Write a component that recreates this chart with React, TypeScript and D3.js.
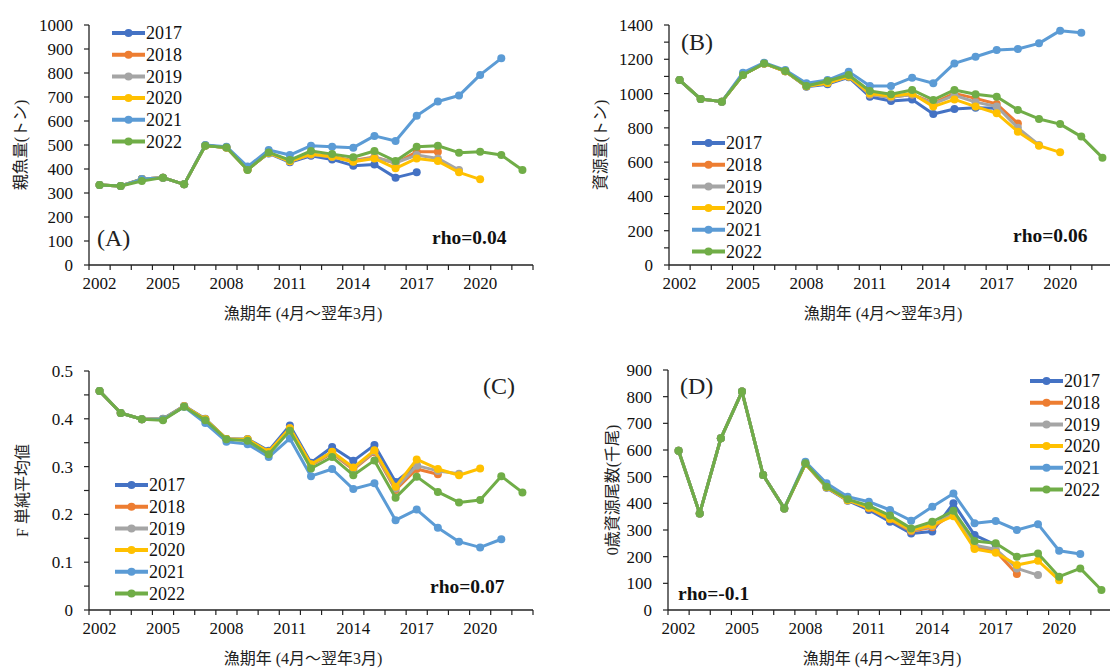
import React, { useEffect, useRef } from 'react';
import * as d3 from 'd3';

const years = [2002, 2003, 2004, 2005, 2006, 2007, 2008, 2009, 2010, 2011, 2012, 2013, 2014, 2015, 2016, 2017, 2018, 2019, 2020, 2021, 2022];
const tickYears = [2002, 2005, 2008, 2011, 2014, 2017, 2020];
const seriesNames = ['2017', '2018', '2019', '2020', '2021', '2022'];
const seriesColors = ['#4472C4', '#ED7D31', '#A5A5A5', '#FFC000', '#5B9BD5', '#70AD47'];

// (A) 親魚量
const ssb2017 = [333, 329, 358, 364, 336, 498, 490, 400, 465, 428, 455, 440, 414, 419, 364, 386];
const ssb2018 = [333, 329, 358, 364, 336, 498, 490, 398, 467, 432, 460, 452, 435, 450, 424, 472, 472];
const ssb2019 = [333, 329, 358, 364, 336, 498, 490, 398, 467, 432, 460, 450, 432, 448, 426, 458, 444, 396];
const ssb2020 = [333, 329, 358, 364, 336, 498, 490, 398, 467, 432, 462, 451, 430, 444, 403, 444, 433, 386, 357];
const ssb2021 = [333, 329, 358, 364, 336, 500, 493, 410, 479, 458, 497, 493, 489, 538, 517, 622, 681, 706, 792, 861];
const ssb2022 = [333, 329, 350, 364, 336, 497, 490, 396, 469, 437, 475, 462, 449, 475, 433, 493, 497, 468, 472, 458, 396];

// (B) 資源量
const bio2017 = [1079, 968, 953, 1110, 1176, 1130, 1040, 1055, 1095, 982, 957, 966, 881, 910, 918, 915];
const bio2018 = [1079, 968, 953, 1110, 1176, 1130, 1042, 1062, 1100, 995, 978, 995, 945, 1001, 972, 939, 826];
const bio2019 = [1079, 968, 953, 1110, 1176, 1130, 1042, 1062, 1100, 995, 978, 995, 940, 990, 950, 925, 800, 700];
const bio2020 = [1079, 968, 953, 1110, 1176, 1130, 1042, 1062, 1100, 1000, 985, 1000, 924, 966, 924, 885, 778, 696, 657];
const bio2021 = [1079, 968, 953, 1122, 1180, 1137, 1060, 1079, 1128, 1044, 1044, 1093, 1060, 1176, 1215, 1254, 1260, 1293, 1367, 1355];
const bio2022 = [1079, 968, 953, 1108, 1176, 1132, 1044, 1073, 1108, 1015, 996, 1021, 963, 1021, 996, 982, 904, 852, 822, 749, 626];

// (C) F 単純平均値
const f2017 = [0.458, 0.412, 0.399, 0.400, 0.427, 0.400, 0.358, 0.358, 0.333, 0.386, 0.308, 0.341, 0.312, 0.345, 0.268, 0.303];
const f2018 = [0.458, 0.412, 0.399, 0.399, 0.426, 0.399, 0.358, 0.356, 0.330, 0.380, 0.303, 0.328, 0.294, 0.330, 0.251, 0.295, 0.284];
const f2019 = [0.458, 0.412, 0.399, 0.399, 0.426, 0.399, 0.358, 0.356, 0.330, 0.380, 0.304, 0.330, 0.296, 0.332, 0.254, 0.302, 0.291, 0.285];
const f2020 = [0.458, 0.412, 0.399, 0.399, 0.426, 0.399, 0.358, 0.357, 0.331, 0.380, 0.305, 0.331, 0.298, 0.334, 0.258, 0.315, 0.295, 0.282, 0.296];
const f2021 = [0.458, 0.412, 0.399, 0.399, 0.425, 0.391, 0.352, 0.347, 0.320, 0.359, 0.280, 0.295, 0.253, 0.265, 0.188, 0.210, 0.172, 0.143, 0.131, 0.148];
const f2022 = [0.458, 0.412, 0.399, 0.397, 0.425, 0.397, 0.357, 0.354, 0.326, 0.375, 0.296, 0.320, 0.282, 0.313, 0.235, 0.279, 0.247, 0.225, 0.230, 0.280, 0.246];

// (D) 0歳資源尾数
const rec2017 = [597, 362, 644, 819, 506, 381, 548, 458, 410, 375, 331, 287, 294, 400, 281, 244];
const rec2018 = [597, 362, 644, 819, 506, 381, 548, 460, 412, 382, 340, 295, 310, 360, 235, 220, 135];
const rec2019 = [597, 362, 644, 819, 506, 381, 548, 460, 412, 384, 342, 298, 315, 365, 243, 228, 156, 131];
const rec2020 = [597, 362, 644, 819, 506, 381, 548, 460, 412, 384, 342, 300, 319, 352, 229, 215, 169, 185, 112];
const rec2021 = [597, 362, 644, 819, 506, 381, 556, 475, 425, 406, 375, 335, 387, 437, 325, 334, 300, 322, 222, 210];
const rec2022 = [597, 362, 644, 819, 506, 381, 550, 462, 415, 391, 354, 306, 331, 372, 259, 250, 200, 212, 125, 156, 75];

const serif = '"Liberation Serif", "Times New Roman", serif';
const jp = '"Liberation Serif", "Noto Sans CJK JP", serif';

const panels = [
  {
    left: 89, top: 25, bottom: 265, max: 1000, step: 100, labelStep: 100, fmt: (d: number) => `${d}`,
    series: [ssb2017, ssb2018, ssb2019, ssb2020, ssb2021, ssb2022],
    ytitle: '親魚量(トン)', ytx: 20, tag: '(A)', tagX: 97, tagY: 246,
    rho: 'rho=0.04', rhoX: 432, rhoY: 244, legX: 112, legY: 33,
  },
  {
    left: 669, top: 25, bottom: 265, max: 1400, step: 100, labelStep: 200, fmt: (d: number) => `${d}`,
    series: [bio2017, bio2018, bio2019, bio2020, bio2021, bio2022],
    ytitle: '資源量(トン)', ytx: 600, tag: '(B)', tagX: 681, tagY: 50,
    rho: 'rho=0.06', rhoX: 1013, rhoY: 242, legX: 692, legY: 143,
  },
  {
    left: 89, top: 371, bottom: 610, max: 0.5, step: 0.05, labelStep: 0.1, fmt: (d: number) => (d === 0 ? '0' : d3.format('.1f')(d)),
    series: [f2017, f2018, f2019, f2020, f2021, f2022],
    ytitle: 'F 単純平均値', ytx: 22, tag: '(C)', tagX: 483, tagY: 394,
    rho: 'rho=0.07', rhoX: 430, rhoY: 593, legX: 115, legY: 485,
  },
  {
    left: 668, top: 370, bottom: 610, max: 900, step: 100, labelStep: 100, fmt: (d: number) => `${d}`,
    series: [rec2017, rec2018, rec2019, rec2020, rec2021, rec2022],
    ytitle: '0歳資源尾数(千尾)', ytx: 612, tag: '(D)', tagX: 680, tagY: 394,
    rho: 'rho=-0.1', rhoX: 678, rhoY: 600, legX: 1030, legY: 381,
  },
];

const App = () => {
  const svgRef: any = useRef();

  useEffect(() => {
    const svg = d3.select(svgRef.current);
    svg.selectAll('*').remove();

    panels.forEach((p) => {
      const g = svg.append('g');
      const x = d3.scaleBand<number>().domain(years).range([p.left, p.left + 444]);
      const y = d3.scaleLinear().domain([0, p.max]).range([p.bottom, p.top]);
      const cx = (i: number) => (x(years[i]) as number) + x.bandwidth() / 2;

      // y axis with ticks
      const yTicks = d3.range(0, p.max + p.step / 2, p.step);
      g.append('line').attr('x1', p.left).attr('x2', p.left).attr('y1', p.top).attr('y2', p.bottom)
        .attr('stroke', '#222').attr('stroke-width', 1.3);
      g.selectAll('.yt').data(yTicks).enter().append('line')
        .attr('x1', p.left - 5).attr('x2', p.left).attr('y1', (d) => y(d)).attr('y2', (d) => y(d))
        .attr('stroke', '#222').attr('stroke-width', 1.2);
      g.selectAll('.yl').data(yTicks.filter((d) => Math.abs(d / p.labelStep - Math.round(d / p.labelStep)) < 1e-6))
        .enter().append('text')
        .attr('x', p.left - 16).attr('y', (d) => y(d)).attr('dy', '0.35em')
        .attr('text-anchor', 'end').attr('font-family', serif).attr('font-size', 17).attr('fill', '#111')
        .text((d) => p.fmt(d));

      // x axis
      g.append('line').attr('x1', p.left).attr('x2', p.left + 444).attr('y1', p.bottom).attr('y2', p.bottom)
        .attr('stroke', '#222').attr('stroke-width', 1.3);
      const bounds = years.map((yr) => x(yr) as number).concat([p.left + 444]);
      g.selectAll('.xt').data(bounds).enter().append('line')
        .attr('x1', (d) => d).attr('x2', (d) => d).attr('y1', p.bottom).attr('y2', p.bottom + 5)
        .attr('stroke', '#222').attr('stroke-width', 1.2);
      g.selectAll('.xl').data(tickYears).enter().append('text')
        .attr('x', (d) => (x(d) as number) + x.bandwidth() / 2).attr('y', p.bottom + 24)
        .attr('text-anchor', 'middle').attr('font-family', serif).attr('font-size', 17).attr('fill', '#111')
        .text((d) => d);
      g.append('text')
        .attr('x', p.left + 214).attr('y', p.bottom + 54)
        .attr('text-anchor', 'middle').attr('font-family', jp).attr('font-size', 16).attr('fill', '#222')
        .text('漁期年 (4月～翌年3月)');
      g.append('text')
        .attr('transform', `translate(${p.ytx},${(p.top + p.bottom) / 2}) rotate(-90)`)
        .attr('text-anchor', 'middle').attr('dy', '0.35em').attr('font-family', jp).attr('font-size', 16).attr('fill', '#222')
        .text(p.ytitle);

      // series
      const line = d3.line<number>().x((_d, i) => cx(i)).y((d) => y(d));
      p.series.forEach((vals, si) => {
        const s = g.append('g');
        s.append('path').datum(vals).attr('d', line).attr('fill', 'none')
          .attr('stroke', seriesColors[si]).attr('stroke-width', 3).attr('stroke-linejoin', 'round');
        s.selectAll('circle').data(vals).enter().append('circle')
          .attr('cx', (_d, i) => cx(i)).attr('cy', (d) => y(d)).attr('r', 4)
          .attr('fill', seriesColors[si]);
      });

      // legend
      seriesNames.forEach((name, si) => {
        const ly = p.legY + si * 21.7;
        g.append('line').attr('x1', p.legX).attr('x2', p.legX + 33).attr('y1', ly).attr('y2', ly)
          .attr('stroke', seriesColors[si]).attr('stroke-width', 4);
        g.append('circle').attr('cx', p.legX + 16.5).attr('cy', ly).attr('r', 4).attr('fill', seriesColors[si]);
        g.append('text').attr('x', p.legX + 34).attr('y', ly).attr('dy', '0.35em')
          .attr('font-family', serif).attr('font-size', 18).attr('fill', '#111').text(name);
      });

      g.append('text').attr('x', p.tagX).attr('y', p.tagY)
        .attr('font-family', serif).attr('font-size', 24).attr('fill', '#222').text(p.tag);
      g.append('text').attr('x', p.rhoX).attr('y', p.rhoY)
        .attr('font-family', serif).attr('font-size', 19.5).attr('font-weight', 'bold').attr('fill', '#111').text(p.rho);
    });
  }, []);

  return (
    <svg ref={svgRef} width={1110} height={670}
      style={{ position: 'absolute', left: 0, top: 0, background: '#fff' }} />
  );
};

export default App;
